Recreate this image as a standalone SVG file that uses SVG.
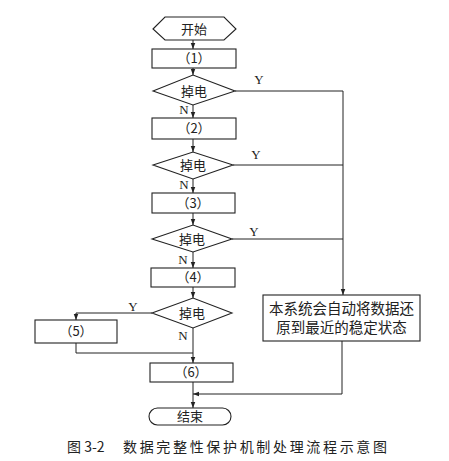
<svg xmlns="http://www.w3.org/2000/svg" width="449" height="461" viewBox="0 0 449 461">
<style>
.s{fill:#fff;stroke:#222;stroke-width:1.1}
.c{fill:none;stroke:#222;stroke-width:1}
.t{font-family:"Noto Sans CJK SC","Liberation Serif",serif;font-size:13px;fill:#222;text-anchor:middle}
.l{font-family:"Liberation Serif",serif;font-size:13px;fill:#222;text-anchor:middle}
.cap{font-family:"Noto Sans CJK SC",sans-serif;font-size:14px;fill:#222}
</style>
<defs>
<marker id="a" viewBox="0 0 8 8" refX="8" refY="4" markerWidth="6" markerHeight="6" orient="auto" markerUnits="userSpaceOnUse">
<path d="M0,1 L8,4 L0,7 z" fill="#222"/>
</marker>
</defs>
<rect width="449" height="461" fill="#fff"/>
<g id="connectors">
<path class="c" d="M193,40 V49" marker-end="url(#a)"/>
<path class="c" d="M193,68 V75" marker-end="url(#a)"/>
<path class="c" d="M193,105 V118" marker-end="url(#a)"/>
<path class="c" d="M193,139 V152" marker-end="url(#a)"/>
<path class="c" d="M193,179 V193" marker-end="url(#a)"/>
<path class="c" d="M193,213 V225" marker-end="url(#a)"/>
<path class="c" d="M193,252 V268" marker-end="url(#a)"/>
<path class="c" d="M193,287 V298" marker-end="url(#a)"/>
<path class="c" d="M193,328 V363" marker-end="url(#a)"/>
<path class="c" d="M193,382 V408" marker-end="url(#a)"/>
<path class="c" d="M235,91 H343 V295" marker-end="url(#a)"/>
<path class="c" d="M233,165 H343"/>
<path class="c" d="M232,239 H343"/>
<path class="c" d="M152,313 H76 V320" marker-end="url(#a)"/>
<path class="c" d="M76,343 V353 H193"/>
<path class="c" d="M342,341 V394 H193" marker-end="url(#a)"/>
<text class="l" x="259" y="84">Y</text>
<text class="l" x="256" y="159">Y</text>
<text class="l" x="254" y="236">Y</text>
<text class="l" x="133" y="311">Y</text>
<text class="l" x="184" y="114">N</text>
<text class="l" x="184" y="189">N</text>
<text class="l" x="183" y="264">N</text>
<text class="l" x="183" y="340">N</text>
</g>
<g id="start">
<polygon class="s" points="153,29 165,17 224,17 236,29 224,40 165,40"/>
<text class="t" x="194" y="33.5">开始</text>
</g>
<g id="p1">
<rect class="s" x="152" y="49" width="84" height="19"/>
<text class="t" x="194" y="63">（1）</text>
</g>
<g id="d1">
<polygon class="s" points="153,91 193,75 235,91 193,105"/>
<text class="t" x="194" y="95.5">掉电</text>
</g>
<g id="p2">
<rect class="s" x="152" y="118" width="84" height="21"/>
<text class="t" x="194" y="133">（2）</text>
</g>
<g id="d2">
<polygon class="s" points="153,165 193,152 233,165 193,179"/>
<text class="t" x="193" y="169.5">掉电</text>
</g>
<g id="p3">
<rect class="s" x="152" y="193" width="83" height="20"/>
<text class="t" x="193" y="207.5">（3）</text>
</g>
<g id="d3">
<polygon class="s" points="152,239 193,225 232,239 193,252"/>
<text class="t" x="192" y="243.5">掉电</text>
</g>
<g id="p4">
<rect class="s" x="151" y="268" width="84" height="19"/>
<text class="t" x="193" y="282">（4）</text>
</g>
<g id="d4">
<polygon class="s" points="152,313 193,298 232,313 193,328"/>
<text class="t" x="192" y="317.5">掉电</text>
</g>
<g id="p5">
<rect class="s" x="35" y="320" width="82" height="23"/>
<text class="t" x="76" y="336">（5）</text>
</g>
<g id="p6">
<rect class="s" x="150" y="363" width="83" height="19"/>
<text class="t" x="191" y="377">（6）</text>
</g>
<g id="restore">
<rect class="s" x="263" y="295" width="157" height="46"/>
<text class="t" x="341.5" y="314" style="font-size:14.5px">本系统会自动将数据还</text>
<text class="t" x="341.5" y="333" style="font-size:14.5px">原到最近的稳定状态</text>
</g>
<g id="end">
<rect class="s" x="149" y="408" width="82" height="17" rx="8.5"/>
<text class="t" x="190" y="421">结束</text>
</g>
<g id="caption">
<text class="cap" x="67" y="452">图 3-2</text>
<text class="cap" x="123" y="452" textLength="264">数据完整性保护机制处理流程示意图</text>
</g>
</svg>
